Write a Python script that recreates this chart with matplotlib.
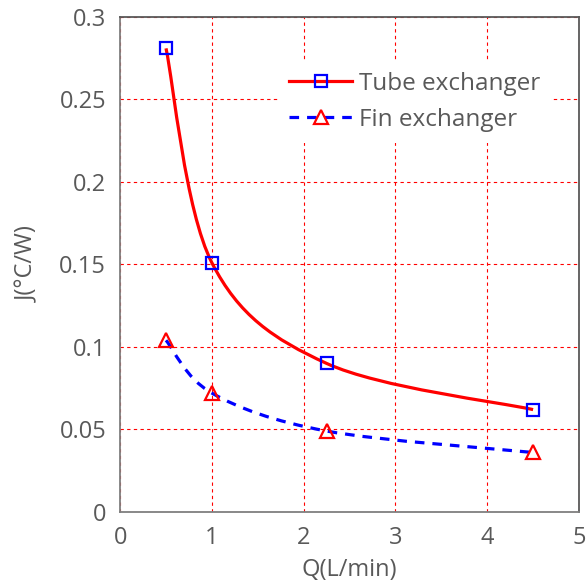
import matplotlib
matplotlib.use("Agg")
import matplotlib.pyplot as plt
from matplotlib.path import Path
from matplotlib.patches import PathPatch
from matplotlib.lines import Line2D
import numpy as np

plt.rcParams['font.family'] = ['Open Sans', 'DejaVu Sans']

q = [0.5, 1.0, 2.25, 4.5]
tube = [0.281, 0.151, 0.090, 0.062]
fin = [0.104, 0.072, 0.049, 0.036]
series_names = ["Tube exchanger", "Fin exchanger"]
xticks = [0, 1, 2, 3, 4, 5]
yticks = [0, 0.05, 0.1, 0.15, 0.2, 0.25, 0.3]
ytick_labels = ["0", "0.05", "0.1", "0.15", "0.2", "0.25", "0.3"]

TEXT = "#595959"

fig = plt.figure(figsize=(5.86, 5.87), dpi=100)
ax = fig.add_axes([0.205, 0.128, 0.783, 0.843])


def smooth_path(xs, ys):
    # Excel-style smoothed line: cubic Bezier segments (Catmull-Rom control points)
    pts = list(zip(xs, ys))
    n = len(pts)
    verts = [pts[0]]
    codes = [Path.MOVETO]
    for i in range(n - 1):
        p0 = pts[i - 1] if i > 0 else pts[i]
        p1 = pts[i]
        p2 = pts[i + 1]
        p3 = pts[i + 2] if i + 2 < n else pts[i + 1]
        c1 = (p1[0] + (p2[0] - p0[0]) / 6, p1[1] + (p2[1] - p0[1]) / 6)
        c2 = (p2[0] - (p3[0] - p1[0]) / 6, p2[1] - (p3[1] - p1[1]) / 6)
        verts += [c1, c2, p2]
        codes += [Path.CURVE4] * 3
    return Path(verts, codes)


ax.add_patch(PathPatch(smooth_path(q, tube), facecolor='none', edgecolor='#ff0000',
                       lw=2.3, zorder=3))
ax.add_patch(PathPatch(smooth_path(q, fin), facecolor='none', edgecolor='#0000ff',
                       lw=2.3, linestyle=(0, (3, 2.5)), zorder=3))

ax.plot(q, tube, linestyle='none', marker='s', ms=9, mfc='none', mec='#0000ff',
        mew=1.6, zorder=4)
ax.plot(q, fin, linestyle='none', marker='^', ms=10, mfc='none', mec='#ff0000',
        mew=1.6, zorder=4)

ax.set_xlim(0, 5)
ax.set_ylim(0, 0.3)
ax.set_xticks(xticks)
ax.set_yticks(yticks)
ax.set_yticklabels(ytick_labels)
ax.tick_params(length=0, labelsize=17, colors=TEXT)
ax.tick_params(axis='x', pad=10)
ax.tick_params(axis='y', pad=10)
ax.grid(True, color='#ff0000', linestyle=(0, (3, 3)), lw=0.8)
ax.set_axisbelow(True)
for s in ax.spines.values():
    s.set_color('#7f7f7f')
    s.set_linewidth(1.3)
ax.spines['top'].set_color('#595959')
ax.spines['right'].set_color('#595959')

ax.set_xlabel("Q(L/min)", fontsize=17, color=TEXT, labelpad=6)
ax.set_ylabel("J(°C/W)", fontsize=17, color=TEXT, labelpad=14)

handles = [
    Line2D([], [], color='#ff0000', lw=2.3, marker='s', ms=9, mfc='none',
           mec='#0000ff', mew=1.6),
    Line2D([], [], color='#0000ff', lw=2.3, linestyle=(0, (3, 2.5)), marker='^',
           ms=10, mfc='none', mec='#ff0000', mew=1.6),
]
leg = ax.legend(handles, series_names, loc='upper left', bbox_to_anchor=(0.344, 0.912),
                borderaxespad=0, frameon=True, fancybox=False, framealpha=1,
                facecolor='white', edgecolor='none', borderpad=0.45,
                fontsize=17.5, handlelength=2.6, handletextpad=0.3,
                labelspacing=0.5, labelcolor=TEXT)

fig.savefig("out.png", dpi=100)
